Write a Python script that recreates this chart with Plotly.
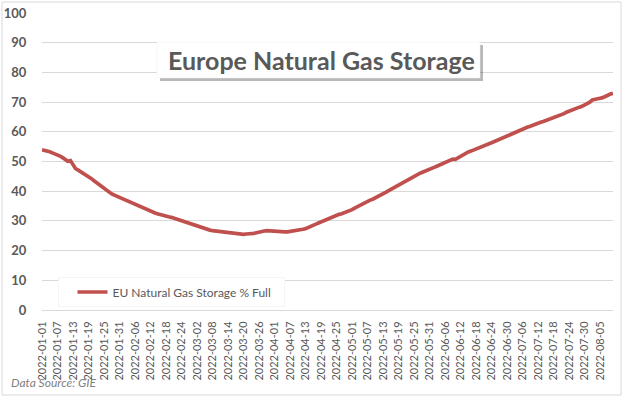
import pandas as pd
import plotly.graph_objects as go

# EU natural gas storage, % full, daily from 2022-01-01
jan = [53.9, 53.8, 53.6, 53.3, 52.9, 52.6, 52.3, 51.8, 51.3, 50.7, 50.1, 50.3, 48.8, 47.6, 47.1,
       46.6, 46.1, 45.5, 44.9, 44.3, 43.6, 42.9, 42.2, 41.5, 40.8, 40.1, 39.5, 39.1, 38.7, 38.3, 37.9]
feb = [37.5, 37.1, 36.7, 36.3, 36.0, 35.7, 35.4, 35.0, 34.6, 34.2, 33.8, 33.4, 33.0, 32.6,
       32.3, 32.0, 31.8, 31.6, 31.4, 31.2, 30.9, 30.6, 30.3, 30.0, 29.7, 29.5, 29.3, 28.9]
mar = [28.5, 28.1, 27.8, 27.6, 27.4, 27.1, 26.9, 26.7, 26.6, 26.5, 26.3, 26.1, 26.0, 25.9, 25.9,
       25.8, 25.7, 25.6, 25.5, 25.5, 25.6, 25.6, 25.7, 25.8, 26.0, 26.3, 26.5, 26.6, 26.7, 26.6, 26.5]
apr = [26.7, 26.5, 26.4, 26.3, 26.3, 26.3, 26.4, 26.5, 26.6, 26.8, 27.0, 27.2, 27.4, 27.7, 28.1,
       28.5, 28.9, 29.3, 29.7, 30.1, 30.5, 30.8, 31.2, 31.6, 32.0, 32.2, 32.4, 32.7, 33.0, 33.4]
may = [33.8, 34.3, 34.8, 35.3, 35.7, 36.1, 36.6, 37.0, 37.3, 37.7, 38.1, 38.6, 39.1, 39.6, 40.1, 40.6,
       41.1, 41.7, 42.2, 42.7, 43.2, 43.6, 44.1, 44.6, 45.1, 45.5, 45.9, 46.3, 46.6, 47.0, 47.3]
jun = [47.7, 48.1, 48.5, 48.9, 49.3, 49.8, 50.3, 50.7, 50.8, 50.7, 51.2, 51.8, 52.4, 52.9, 53.2,
       53.5, 53.9, 54.3, 54.6, 54.9, 55.3, 55.7, 56.0, 56.3, 56.7, 57.0, 57.3, 57.7, 58.1, 58.4]
jul = [58.8, 59.2, 59.6, 60.0, 60.4, 60.8, 61.2, 61.6, 61.9, 62.3, 62.6, 62.9, 63.2, 63.5, 63.8, 64.1,
       64.4, 64.7, 65.0, 65.3, 65.7, 66.1, 66.6, 67.0, 67.3, 67.6, 67.9, 68.3, 68.6, 69.0, 69.4]
aug = [70.0, 70.7, 71.0, 71.1, 71.3, 71.5, 72.0, 72.4, 72.7, 73.0]

storage = jan + feb + mar + apr + may + jun + jul + aug
dates = [d.strftime("%Y-%m-%d") for d in pd.date_range("2022-01-01", periods=len(storage), freq="D")]
tick_dates = dates[::6]
y_ticks = list(range(0, 101, 10))

W, H = 624, 399
L, R, T, B = 42, 11, 13, 89
PW, PH = W - L - R, H - T - B


def px(x):
    return (x - L) / PW


def py(y):
    return (H - B - y) / PH


GREY = "#595959"
FONT = "Lato"
SHADOW = "rgba(0,0,0,0.28)"

fig = go.Figure()
fig.add_trace(go.Scatter(
    x=dates, y=storage, mode="lines", name="EU Natural Gas Storage % Full",
    line=dict(color="#C0504D", width=3.7),
))

shapes = [
    # outer chart border
    dict(type="rect", xref="paper", yref="paper", x0=px(2), x1=px(621), y0=py(395), y1=py(2),
         line=dict(color="#d9d9d9", width=1), fillcolor="rgba(0,0,0,0)", layer="below"),
    # title box shadow + box
    dict(type="rect", xref="paper", yref="paper", x0=px(160), x1=px(483), y0=py(81), y1=py(45),
         line=dict(width=0), fillcolor=SHADOW, layer="above"),
    dict(type="rect", xref="paper", yref="paper", x0=px(157), x1=px(480), y0=py(78), y1=py(42),
         line=dict(color="#ececec", width=0.5), fillcolor="white", layer="above"),
    # legend shadow
    dict(type="rect", xref="paper", yref="paper", x0=px(61), x1=px(283), y0=py(301), y1=py(280),
         line=dict(width=0), fillcolor=SHADOW, layer="above"),
]

annotations = [
    dict(text="<b>Europe Natural Gas Storage</b>", xref="paper", yref="paper",
         x=px(321), y=py(60), xanchor="center", yanchor="middle", showarrow=False,
         font=dict(family=FONT, size=25, color=GREY)),
    dict(text="<i>Data Source: GIE</i>", xref="paper", yref="paper",
         x=px(9), y=py(383), xanchor="left", yanchor="middle", showarrow=False,
         font=dict(family=FONT, size=12, color="#7f7f7f")),
]

fig.update_layout(
    template="none",
    width=W, height=H,
    margin=dict(l=L, r=R, t=T, b=B, pad=0, autoexpand=False),
    paper_bgcolor="white", plot_bgcolor="white",
    showlegend=True,
    legend=dict(x=px(58), y=py(277), xanchor="left", yanchor="top",
                orientation="h", entrywidth=167, entrywidthmode="pixels",
                indentation=14,
                bgcolor="white", bordercolor="#ececec", borderwidth=0.5,
                font=dict(family=FONT, size=12, color=GREY)),
    shapes=shapes, annotations=annotations,
    xaxis=dict(type="category", range=[0, len(storage) - 1], automargin=False,
               tickmode="array", tickvals=tick_dates, ticktext=tick_dates,
               tickangle=-90, showgrid=False, showline=False, zeroline=False,
               ticks="outside", ticklen=6, tickcolor="rgba(0,0,0,0)",
               tickfont=dict(family=FONT, size=11, color=GREY)),
    yaxis=dict(range=[0, 100], tickvals=y_ticks, automargin=False,
               showgrid=True, gridcolor="#d9d9d9", gridwidth=1,
               zeroline=True, zerolinecolor="#d9d9d9", zerolinewidth=1, showline=False,
               ticks="outside", ticklen=12, tickcolor="rgba(0,0,0,0)",
               tickfont=dict(family=FONT, size=13, color=GREY, weight="bold")),
)

fig.write_html("out.html", config={"displayModeBar": False},
               post_script="document.body.style.margin='0';document.body.style.overflow='hidden';")
